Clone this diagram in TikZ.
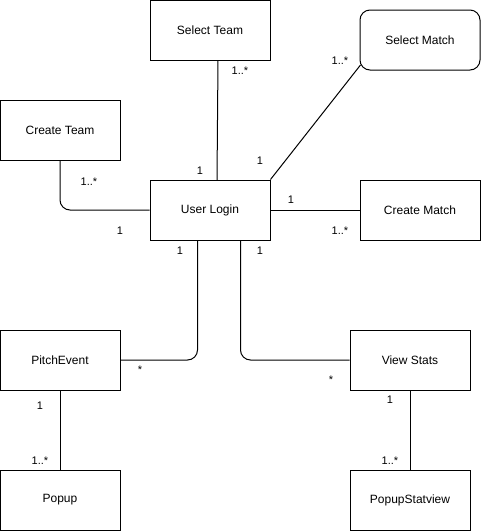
\documentclass[tikz,border=0pt]{standalone}
\usepackage{fontspec}
\setmainfont{Liberation Sans}
\begin{document}
\begin{tikzpicture}[x=1pt,y=-1pt,
  box/.style={draw=black,line width=1pt,fill=white,minimum width=120pt,minimum height=60pt,inner sep=0pt,font=\fontsize{12}{14}\selectfont},
  rbox/.style={box,rounded corners=10pt},
  conn/.style={draw=black,line width=1pt,rounded corners=10pt},
  lbl/.style={font=\fontsize{11}{13}\selectfont,inner sep=0pt}]
\useasboundingbox (0,0) rectangle (481,531);
\node[box] (selteam) at (210,30) {Select Team};
\node[rbox] (selmatch) at (420,40) {Select Match};
\node[box] (crteam) at (60,130) {Create Team};
\node[box] (login) at (210,210) {User Login};
\node[box] (crmatch) at (420,210) {Create Match};
\node[box] (pitch) at (60,360) {PitchEvent};
\node[box] (stats) at (410,360) {View Stats};
\node[box] (popup) at (60,500) {Popup};
\node[box] (popstat) at (410,500) {PopupStatview};
\coordinate (ls1) at (218,60);
\coordinate (ls2) at (217,180);
\coordinate (sm1) at (360.5,65);
\path[conn] (ls1) -- (ls2);
\path[conn] (sm1) -- (login.north east);
\path[conn] (crteam.south) |- (login.west);
\path[conn] (login.east) -- (crmatch.west);
\coordinate (lb1) at (197.5,240);
\coordinate (lb2) at (240.5,240);
\path[conn] (lb1) |- (pitch.east);
\path[conn] (lb2) |- (stats.west);
\path[conn] (pitch.south) -- (popup.north);
\path[conn] (stats.south) -- (popstat.north);
\node[lbl] (l1) at (240,71) {1..*};
\node[lbl] (l2) at (200,171) {1};
\node[lbl] (l3) at (260,161) {1};
\node[lbl] (l4) at (340,61) {1..*};
\node[lbl] (l5) at (291,200) {1};
\node[lbl] (l6) at (340,231) {1..*};
\node[lbl] (l7) at (89,182) {1..*};
\node[lbl] (l8) at (120,231) {1};
\node[lbl] (l9) at (180,251) {1};
\node[lbl] (l10) at (260,251) {1};
\node[lbl] (l11) at (140,370) {*};
\node[lbl] (l12) at (331,380) {*};
\node[lbl] (l13) at (40,406) {1};
\node[lbl] (l14) at (40,461) {1..*};
\node[lbl] (l15) at (390,400) {1};
\node[lbl] (l16) at (390,461) {1..*};
\end{tikzpicture}
\end{document}
